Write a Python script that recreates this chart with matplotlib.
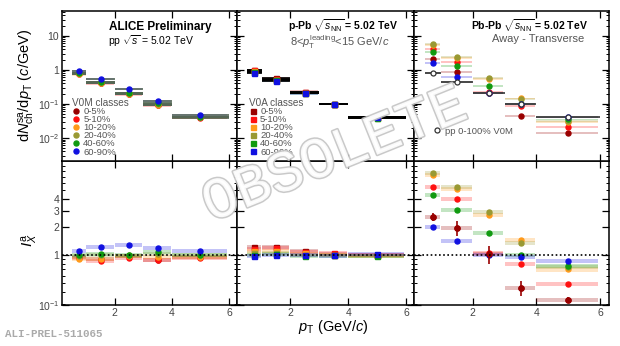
import numpy as np
import matplotlib
matplotlib.use('Agg')
import matplotlib.pyplot as plt
import matplotlib.patheffects as pe
from matplotlib.ticker import LogLocator, NullFormatter

plt.rcParams['font.family'] = ['Liberation Sans', 'DejaVu Sans']
plt.rcParams['mathtext.fontset'] = 'custom'
plt.rcParams['mathtext.rm'] = 'Liberation Sans'
plt.rcParams['mathtext.it'] = 'Liberation Sans:italic'
plt.rcParams['mathtext.bf'] = 'Liberation Sans:bold'

# pT bins
pt_lo = [0.5, 1.0, 2.0, 3.0, 4.0]
pt_hi = [1.0, 2.0, 3.0, 4.0, 6.0]
pt_c = [0.75, 1.5, 2.5, 3.5, 5.0]

classes = ['0-5%', '5-10%', '10-20%', '20-40%', '40-60%', '60-90%']
colors = ['#990000', '#ff1010', '#ff9a1a', '#999933', '#109a10', '#1010e0']

# pp, V0M classes: per-trigger yields (away - transverse)
pp_yield = [
    [0.80, 0.42, 0.20, 0.095, 0.040],
    [0.78, 0.40, 0.19, 0.090, 0.039],
    [0.74, 0.42, 0.20, 0.095, 0.040],
    [0.80, 0.44, 0.21, 0.100, 0.041],
    [0.82, 0.45, 0.21, 0.105, 0.042],
    [0.92, 0.55, 0.27, 0.120, 0.047],
]
pp_ratio = [
    [0.95, 0.90, 0.97, 0.88, 0.95],
    [0.93, 0.86, 0.93, 0.88, 0.93],
    [0.90, 0.90, 0.97, 0.95, 0.95],
    [0.97, 1.00, 0.99, 1.02, 1.00],
    [1.00, 1.02, 1.00, 1.08, 1.00],
    [1.10, 1.22, 1.28, 1.19, 1.10],
]

# p-Pb, V0A classes
ppb_yield = [
    [1.00, 0.58, 0.23, 0.100, 0.040],
    [0.97, 0.55, 0.22, 0.100, 0.040],
    [0.92, 0.52, 0.215, 0.100, 0.040],
    [0.88, 0.50, 0.21, 0.100, 0.039],
    [0.85, 0.49, 0.205, 0.098, 0.038],
    [0.80, 0.47, 0.205, 0.098, 0.041],
]
ppb_ratio = [
    [1.22, 1.22, 1.10, 1.02, 1.00],
    [1.17, 1.18, 1.07, 1.05, 1.00],
    [1.10, 1.10, 1.04, 1.01, 0.99],
    [1.05, 1.05, 1.00, 1.00, 0.99],
    [1.00, 1.02, 0.97, 0.99, 0.97],
    [0.97, 1.00, 1.00, 0.99, 1.03],
]

# Pb-Pb, centrality classes
pbpb_yield = [
    [2.1, 0.87, 0.21, 0.044, 0.014],
    [4.2, 1.70, 0.22, 0.085, 0.021],
    [5.5, 2.30, 0.55, 0.145, 0.030],
    [5.8, 2.40, 0.58, 0.140, 0.032],
    [3.4, 1.30, 0.34, 0.100, 0.035],
    [1.6, 0.62, 0.21, 0.098, 0.040],
]
pbpb_ratio = [
    [2.56, 1.95, 1.03, 0.44, 0.33],
    [5.40, 4.00, 1.05, 0.80, 0.49],
    [7.30, 5.20, 2.70, 1.45, 0.70],
    [7.60, 5.40, 2.90, 1.35, 0.74],
    [4.40, 3.05, 1.72, 1.00, 0.76],
    [2.00, 1.41, 1.00, 0.95, 0.86],
]
pbpb_ratio_stat = [0.25, 0.35, 0.22, 0.08, 0.02]  # 0-5% stat errors
pp_ref = [0.82, 0.44, 0.21, 0.10, 0.042]  # pp 0-100% V0M

W, H = 620, 346
fig = plt.figure(figsize=(W / 100, H / 100), dpi=100)
xs = [(62, 237), (237, 414), (414, 609)]
top_y = (11, 161)
bot_y = (161, 305)


def make_ax(xr, yr):
    return fig.add_axes([xr[0] / W, 1 - yr[1] / H, (xr[1] - xr[0]) / W, (yr[1] - yr[0]) / H])


top_axes = [make_ax(x, top_y) for x in xs]
bot_axes = [make_ax(x, bot_y) for x in xs]
for ax in top_axes:
    ax.set_zorder(2)

width = np.array(pt_hi) - np.array(pt_lo)


def draw(ax, vals, marker, box_frac, xline=None, alpha=0.25):
    for i, v in enumerate(vals):
        v = np.array(v)
        ax.bar(pt_lo, v * 2 * box_frac, width=width * 0.96, bottom=v * (1 - box_frac),
               align='edge', color=colors[i], alpha=alpha, lw=0, zorder=2)
    for i, v in enumerate(vals):
        ax.errorbar(pt_c, v, xerr=None, fmt=marker, color=colors[i], ms=3.6,
                    mec=colors[i], lw=0, zorder=4, label=classes[i])
    if xline is not None:
        for i, v in enumerate(vals):
            ax.hlines(v, pt_lo, pt_hi, color=xline, lw=1.2, zorder=3)


# top row
draw(top_axes[0], pp_yield, 'o', 0.08, xline='#556655')
draw(top_axes[1], ppb_yield, 's', 0.08, xline='black')
draw(top_axes[2], pbpb_yield, 'o', 0.06)
top_axes[2].hlines(pp_ref, pt_lo, pt_hi, color='#333333', lw=1.2, zorder=3)
top_axes[2].bar(pt_lo, np.array(pp_ref) * 0.16, width=width * 0.96,
                bottom=np.array(pp_ref) * 0.92, align='edge', color='#888888',
                alpha=0.5, lw=0, zorder=2)
ref_line, = top_axes[2].plot(pt_c, pp_ref, 'o', mfc='white', mec='#333333',
                             ms=3.6, mew=0.9, zorder=5, label='pp 0-100% V0M')

# bottom row
draw(bot_axes[0], pp_ratio, 'o', 0.05)
draw(bot_axes[1], ppb_ratio, 's', 0.05)
draw(bot_axes[2], pbpb_ratio, 'o', 0.05)
bot_axes[2].errorbar(pt_c, pbpb_ratio[0], yerr=pbpb_ratio_stat, fmt='o',
                     color=colors[0], ms=3.6, lw=1.2, zorder=5)

for ax in top_axes + bot_axes:
    ax.set_xlim(0.15, 6.28)
    ax.set_yscale('log')
    ax.set_xticks([2, 4, 6])
    ax.tick_params(which='both', direction='in', top=True, right=True,
                   labelsize=7.5, labelcolor='#444444', pad=2)
    ax.tick_params(which='major', length=5, width=0.9)
    ax.tick_params(which='minor', length=2.5, width=0.7)
    for s in ax.spines.values():
        s.set_linewidth(1.1)

for ax in top_axes:
    ax.set_ylim(0.0021, 54)
    ax.set_yticks([0.01, 0.1, 1, 10])
    ax.yaxis.set_minor_locator(LogLocator(base=10, subs=np.arange(2, 10)))
    ax.yaxis.set_minor_formatter(NullFormatter())
    ax.set_xticklabels([])
    ax.set_yticklabels([])
top_axes[0].set_yticklabels(['$10^{-2}$', '$10^{-1}$', '1', '10'])

for ax in bot_axes:
    ax.set_ylim(0.29, 10.3)
    ax.set_yticks([0.29, 1, 2, 3, 4])
    ax.yaxis.set_minor_locator(LogLocator(base=10, subs=np.arange(2, 10)))
    ax.yaxis.set_minor_formatter(NullFormatter())
    ax.axhline(1, color='black', ls=(0, (1, 1.5)), lw=1.2, zorder=6)
    ax.set_yticklabels([])
bot_axes[0].set_yticklabels(['$10^{-1}$', '1', '2', '3', '4'])
for ax in bot_axes[1:]:
    ax.set_xticklabels(['2', '4', '6'])

# legends
gray = '#555555'
for ax, title, pos in [(top_axes[0], 'V0M classes', (0.03, 0.45)),
                       (top_axes[1], 'V0A classes', (0.04, 0.45))]:
    leg = ax.legend(loc='upper left', bbox_to_anchor=pos, frameon=False, fontsize=6.8,
                    title=title, title_fontsize=7.2, handlelength=0.8,
                    handletextpad=0.4, labelspacing=-0.1, borderpad=0,
                    alignment='left')
    leg.get_title().set_color(gray)
    for t in leg.get_texts():
        t.set_color(gray)
leg = top_axes[2].legend(handles=[ref_line], loc='upper left', bbox_to_anchor=(0.07, 0.26),
                         frameon=False, fontsize=6.8, handlelength=1.0, handletextpad=0.3,
                         borderpad=0)
for t in leg.get_texts():
    t.set_color(gray)

# panel titles
ta = top_axes
ta[0].text(0.56, 0.895, 'ALICE Preliminary', transform=ta[0].transAxes, fontsize=8.5,
           fontweight='bold', ha='center', va='center')
ta[0].text(0.26, 0.80, r'pp $\sqrt{s}$ = 5.02 TeV', transform=ta[0].transAxes,
           fontsize=7.5, ha='left', va='center')
ta[1].text(0.29, 0.90, r'p-Pb $\sqrt{s_{\rm NN}}$ = 5.02 TeV', transform=ta[1].transAxes,
           fontsize=7.5, fontweight='bold', ha='left', va='center')
ta[1].text(0.30, 0.79, r'8<$p_{\rm T}^{\rm leading}$<15 GeV/$c$', transform=ta[1].transAxes,
           fontsize=8, color=gray, ha='left', va='center')
ta[2].text(0.29, 0.90, r'Pb-Pb $\sqrt{s_{\rm NN}}$ = 5.02 TeV', transform=ta[2].transAxes,
           fontsize=7.5, fontweight='bold', ha='left', va='center')
ta[2].text(0.40, 0.81, 'Away - Transverse', transform=ta[2].transAxes,
           fontsize=8, color=gray, ha='left', va='center')

# axis titles
fig.text(27 / W, 1 - 85 / H, r'd$N_{\rm ch}^{\rm sa}$/d$p_{\rm T}$ ($c$/GeV)', rotation=90,
         fontsize=10.5, ha='center', va='center')
fig.text(30 / W, 1 - 240 / H, r'$I_{X}^{\rm a}$', rotation=90, fontsize=11,
         ha='center', va='center')
fig.text(333 / W, 1 - 327 / H, r'$p_{\rm T}$ (GeV/$c$)', fontsize=10.5,
         ha='center', va='center')
fig.text(5 / W, 1 - 334 / H, 'ALI-PREL-511065', fontsize=7.8, family='Liberation Mono',
         fontweight='bold', color='#aaaaaa', ha='left', va='center')

# watermark
fig.text(0.54, 0.55, 'OBSOLETE', rotation=22, fontsize=42, family='Liberation Mono',
         color='white', alpha=0.9, ha='center', va='center', zorder=20,
         path_effects=[pe.withStroke(linewidth=2.2, foreground='#c4c4c4')])

fig.savefig('out.png', dpi=100)
